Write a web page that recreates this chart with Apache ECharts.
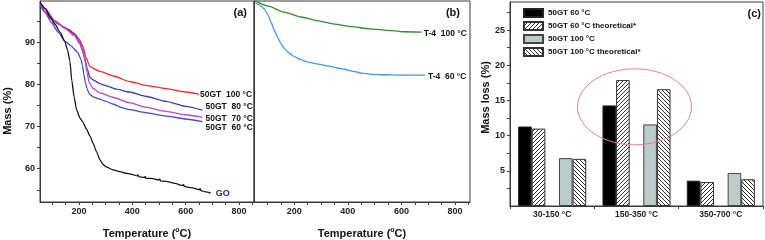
<!DOCTYPE html>
<html><head><meta charset="utf-8">
<script src="https://cdn.jsdelivr.net/npm/echarts@6/dist/echarts.min.js"></script>
<style>html,body{margin:0;padding:0;background:#fff}#c{width:765px;height:240px}</style>
</head><body><div id="c"></div>
<script>
// ---------- panel (a) data: [temperature °C, mass %] ----------
const go50GT100 = [[55,98.6],[75,97.2],[96,95.5],[122,94.3],[159,93.1],[185,92],[200,90.8],[215,89],[226,86.4],[241,84.3],[260,83.6],[278,83.1],[330,82],[389,80.7],[450,79.8],[527,79],[600,78.2],[650,77.7]];
const go50GT80 = [[55,99.2],[73,97.9],[110,95.1],[147,93.5],[184,91.9],[203,90],[213,88.3],[221,86.4],[232,83.5],[241,81.7],[255,81],[278,80.2],[300,79.7],[340,78.9],[389,78.2],[450,77.2],[527,76],[600,74.8],[663,73.9]];
const go50GT70 = [[55,99.3],[73,97.9],[110,95.1],[147,93.3],[184,91.5],[203,89.6],[214,87.8],[222,85.8],[230,83],[238,80.5],[252,79.1],[278,78],[330,76.9],[389,75.7],[450,74.6],[527,73.6],[600,72.8],[663,72.2]];
const go50GT60 = [[55,99],[73,97.1],[97,94.7],[122,92.4],[147,90.3],[171,89.1],[196,87.6],[207,86],[213,84.5],[218,82.5],[224,80.5],[230,79],[240,77.6],[255,77],[278,76.5],[300,76],[330,75.3],[360,74.5],[389,74],[450,73.3],[527,72.5],[600,71.8],[663,71.2]];
const goData = [[55,99.5],[75,98],[92,96],[110,94.3],[129,92.4],[147,90.2],[158,88],[166,85.5],[173,81],[182,77],[191,74],[204,72],[215,71],[229,69.3],[241,67.8],[253,66],[266,64],[278,62.2],[290,61],[303,60.4],[325,59.8],[353,59.3],[380,58.9],[402,58.6],[418,58.3],[421,58.6],[424,58.1],[445,57.9],[448,58.2],[451,57.7],[470,57.7],[500,57.3],[503,57.6],[506,57.1],[527,57],[560,56.5],[589,56.0],[592,56.3],[595,55.8],[620,55.5],[651,55.0],[654,55.3],[657,54.8],[675,54.5],[694,54.2]];
// ---------- panel (b) data ----------
const t4_100 = [[53,99.9],[101,98.65],[164,97.1],[225,96],[289,95.1],[350,94.3],[414,93.7],[480,93.2],[539,92.9],[608,92.5],[676,92.4]];
const t4_60 = [[55,99.4],[70,98.9],[89,97.9],[102,96.5],[114,94.7],[126,92.8],[139,91.1],[151,89.6],[164,88.5],[182,87.4],[201,86.6],[225,85.9],[251,85.3],[290,84.8],[326,84.4],[360,83.9],[388,83.6],[420,83.1],[450,82.7],[490,82.4],[538,82.3],[600,82.2],[688,82.2]];
// ---------- panel (c) data ----------
const ranges = ['30-150 °C', '150-350 °C', '350-700 °C'];
const loss60 = [11.3, 14.3, 3.6];
const loss60Theo = [11.0, 17.9, 3.4];
const loss100 = [6.8, 11.6, 4.7];
const loss100Theo = [6.7, 16.6, 3.8];
const spacer = [null, null, null];
// ---------- ticks ----------
const tempLabels = [200, 400, 600, 800];
const tempTicks = [100,150,200,250,300,350,400,450,500,550,600,650,700,750,800,850];
const massLabels = [60, 70, 80, 90];
const massTicks = [55,60,65,70,75,80,85,90,95];
const lossLabels = [5, 10, 15, 20, 25];
const lossTicks = [2.5,5,7.5,10,12.5,15,17.5,20,22.5,25,27.5];

const FF = '"Liberation Sans", Arial, sans-serif';
const AX = '#3a3a3a';

function hatch(dir) {
  const c = document.createElement('canvas'); c.width = 4; c.height = 4;
  const g = c.getContext('2d');
  g.fillStyle = '#fff'; g.fillRect(0, 0, 4, 4);
  g.strokeStyle = '#333'; g.lineWidth = 1;
  g.beginPath();
  if (dir === '/') {
    g.moveTo(-1, 5); g.lineTo(5, -1);
    g.moveTo(-1, 1); g.lineTo(1, -1);
    g.moveTo(3, 5); g.lineTo(5, 3);
  } else {
    g.moveTo(-1, -1); g.lineTo(5, 5);
    g.moveTo(3, -1); g.lineTo(5, 1);
    g.moveTo(-1, 3); g.lineTo(1, 5);
  }
  g.stroke();
  return { image: c, repeat: 'repeat' };
}

const chart = echarts.init(document.getElementById('c'), null, { renderer: 'canvas' });

function tempAxis(grid, min) {
  return {
    type: 'value', gridIndex: grid, min: min, max: 856,
    axisLine: { show: true, onZero: false, lineStyle: { color: AX, width: 1 } },
    axisTick: { show: true, customValues: tempTicks, length: 3, lineStyle: { color: AX } },
    axisLabel: { customValues: tempLabels, fontSize: 9, fontWeight: 'bold', color: '#222', margin: 5, fontFamily: FF },
    splitLine: { show: false },
    name: 'Temperature ({s|o}C)', nameLocation: 'middle', nameGap: 25, nameMoveOverlap: false,
    nameTextStyle: { fontSize: 11, fontWeight: 'bold', color: '#111', fontFamily: FF,
      rich: { s: { fontSize: 7, fontWeight: 'bold', color: '#111', fontFamily: FF, padding: [0, 0, 7, 0] } } }
  };
}
function massAxis(grid, show) {
  return {
    type: 'value', gridIndex: grid, min: 52.1, max: 99.8,
    axisLine: { show: true, onZero: false, lineStyle: { color: AX, width: 1 } },
    axisTick: { show: show, customValues: massTicks, length: 3, lineStyle: { color: AX } },
    axisLabel: { show: show, customValues: massLabels, fontSize: 9, fontWeight: 'bold', color: '#222', margin: 5, fontFamily: FF },
    splitLine: { show: false },
    name: show ? 'Mass (%)' : '', nameLocation: 'middle', nameGap: 27, nameMoveOverlap: false,
    nameTextStyle: { fontSize: 11, fontWeight: 'bold', color: '#111', fontFamily: FF, padding: [0, 19, 0, 0] }
  };
}
function lineSeries(name, data, color, xi, label, dist, dy, lblColor, lblSize) {
  return {
    type: 'line', name: name, data: data, xAxisIndex: xi, yAxisIndex: xi,
    showSymbol: false, smooth: 0.2, smoothMonotone: 'x',
    lineStyle: { color: color, width: 1.3 }, itemStyle: { color: color },
    endLabel: { show: true, formatter: label, distance: dist, offset: [0, dy],
      fontSize: lblSize || 8.5, fontWeight: 'bold', color: lblColor || '#111', fontFamily: FF },
    silent: true, z: 3
  };
}

const option = {
  animation: false,
  backgroundColor: '#fff',
  textStyle: { fontFamily: FF },
  grid: [
    { left: 40, top: 1, width: 214, height: 201, show: true, borderColor: AX, borderWidth: 1, backgroundColor: 'transparent', outerBoundsMode: 'none', containLabel: false },
    { left: 254, top: 1, width: 216, height: 201, show: true, borderColor: AX, borderWidth: 1, backgroundColor: 'transparent', outerBoundsMode: 'none', containLabel: false },
    { left: 510, top: 2, width: 253, height: 204, show: true, borderColor: AX, borderWidth: 1, backgroundColor: 'transparent', outerBoundsMode: 'none', containLabel: false }
  ],
  xAxis: [
    tempAxis(0, 54),
    tempAxis(1, 50),
    {
      type: 'category', gridIndex: 2, data: ranges,
      axisLine: { show: true, lineStyle: { color: AX, width: 1 } },
      axisTick: { show: true, alignWithLabel: false, length: 3, lineStyle: { color: AX } },
      axisLabel: { fontSize: 8.5, fontWeight: 'bold', color: '#222', margin: 4, fontFamily: FF },
      splitLine: { show: false }
    }
  ],
  yAxis: [
    massAxis(0, true),
    massAxis(1, false),
    {
      type: 'value', gridIndex: 2, min: 0, max: 29,
      axisLine: { show: true, onZero: false, lineStyle: { color: AX, width: 1 } },
      axisTick: { show: true, customValues: lossTicks, length: 3, lineStyle: { color: AX } },
      axisLabel: { customValues: lossLabels, fontSize: 9, fontWeight: 'bold', color: '#222', margin: 5, fontFamily: FF },
      splitLine: { show: false },
      name: 'Mass loss (%)', nameLocation: 'middle', nameGap: 19, nameMoveOverlap: false,
      nameTextStyle: { fontSize: 11, fontWeight: 'bold', color: '#111', fontFamily: FF, padding: [0, 0, 0, 13] }
    }
  ],
  legend: {
    data: ['50GT 60 °C', '50GT 60 °C theoretical*', '50GT 100 °C', '50GT 100 °C theoretical*'],
    orient: 'vertical', left: 523, top: 8, itemWidth: 19, itemHeight: 8, itemGap: 3, icon: 'rect',
    padding: 0, selectedMode: false,
    textStyle: { fontSize: 8, fontWeight: 'bold', color: '#111', fontFamily: FF, lineHeight: 8 }
  },
  series: [
    lineSeries('50GT 100', go50GT100, '#ff2626', 0, '50GT  100 °C', 1, 1),
    lineSeries('50GT 80', go50GT80, '#3b3fb5', 0, '50GT  80 °C', 3, -3),
    lineSeries('50GT 70', go50GT70, '#c444cc', 0, '50GT  70 °C', 3, 1),
    lineSeries('50GT 60', go50GT60, '#4448e0', 0, '50GT  60 °C', 3, 6),
    lineSeries('GO', goData, '#151515', 0, 'GO', 5, 0, '#1c2c90', 9),
    lineSeries('T-4 100', t4_100, '#2f8f2f', 1, 'T-4  100 °C', 2, 1),
    lineSeries('T-4 60', t4_60, '#3f97f2', 1, 'T-4  60 °C', 3, 1),
    { type: 'bar', name: '50GT 60 °C', xAxisIndex: 2, yAxisIndex: 2, data: loss60,
      barGap: '0%', barCategoryGap: '19.3%',
      itemStyle: { color: '#000', borderColor: '#222', borderWidth: 1 } },
    { type: 'bar', name: '50GT 60 °C theoretical*', xAxisIndex: 2, yAxisIndex: 2, data: loss60Theo,
      itemStyle: { color: hatch('/'), borderColor: '#333', borderWidth: 1 } },
    { type: 'bar', name: 'spacer', xAxisIndex: 2, yAxisIndex: 2, data: spacer, silent: true,
      itemStyle: { color: 'transparent' } },
    { type: 'bar', name: '50GT 100 °C', xAxisIndex: 2, yAxisIndex: 2, data: loss100,
      itemStyle: { color: '#bccbcc', borderColor: '#444', borderWidth: 1 } },
    { type: 'bar', name: '50GT 100 °C theoretical*', xAxisIndex: 2, yAxisIndex: 2, data: loss100Theo,
      itemStyle: { color: hatch('\\'), borderColor: '#333', borderWidth: 1 } }
  ]
};
chart.setOption(option);

// panel letters and the highlight ellipse around the 150-350 °C group
const ellCtr = chart.convertToPixel({ xAxisIndex: 2, yAxisIndex: 2 }, [ranges[1], 14.1]);
const ellC0 = chart.convertToPixel({ xAxisIndex: 2, yAxisIndex: 2 }, [ranges[0], 0]);
const ellTop = chart.convertToPixel({ xAxisIndex: 2, yAxisIndex: 2 }, [ranges[1], 14.1 + 5.4]);
const catW = ellCtr[0] - ellC0[0];
chart.setOption({
  graphic: [
    { type: 'ellipse', shape: { cx: ellCtr[0] - 2, cy: ellCtr[1], rx: catW * 0.676, ry: ellCtr[1] - ellTop[1] },
      style: { fill: 'none', stroke: '#f08088', lineWidth: 1 }, z: 20, silent: true },
    { type: 'text', x: 247, y: 13, style: { text: '(a)', font: 'bold 11px ' + FF, fill: '#111', textAlign: 'right', textVerticalAlign: 'middle' } },
    { type: 'text', x: 460, y: 13, style: { text: '(b)', font: 'bold 11px ' + FF, fill: '#111', textAlign: 'right', textVerticalAlign: 'middle' } },
    { type: 'text', x: 761, y: 14, style: { text: '(c)', font: 'bold 11px ' + FF, fill: '#111', textAlign: 'right', textVerticalAlign: 'middle' } }
  ]
});
</script>
</body></html>
